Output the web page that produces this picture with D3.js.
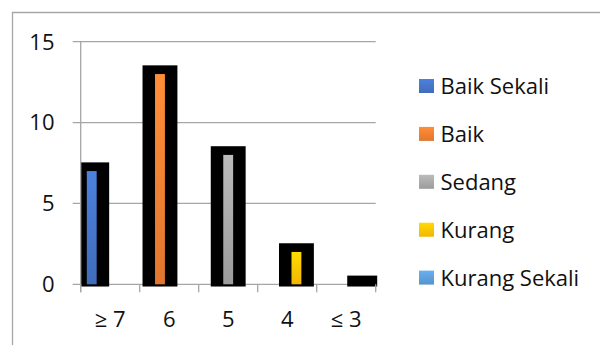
<!DOCTYPE html>
<html>
<head>
<meta charset="utf-8">
<script src="https://cdn.jsdelivr.net/npm/d3@7"></script>
<style>
  body { margin: 0; background: #fff; }
  svg { display: block; font-family: "Open Sans", sans-serif; }
</style>
</head>
<body>
<div id="chart"></div>
<script>
// data
let categories = ['≥ 7', '6', '5', '4', '≤ 3'];
let seriesNames = ['Baik Sekali', 'Baik', 'Sedang', 'Kurang', 'Kurang Sekali'];
let baikSekali = [7, null, null, null, null];
let baik = [null, 13, null, null, null];
let sedang = [null, null, 8, null, null];
let kurang = [null, null, null, 2, null];
let kurangSekali = [null, null, null, null, 0];
let yTicks = [0, 5, 10, 15];
let colors = ['#4472C4', '#ED7D31', '#A5A5A5', '#FFC000', '#5B9BD5'];

let seriesValues = [baikSekali, baik, sedang, kurang, kurangSekali];

let width = 600,
    height = 345,
    plot = {left: 80.7, right: 375.7, top: 41.7, bottom: 284.3};

let svg = d3.select('#chart')
  .append('svg')
  .attr('width', width)
  .attr('height', height);

// gradients like the office style fills
let defs = svg.append('defs');
colors.forEach((c, i) => {
  let grad = defs.append('linearGradient')
    .attr('id', 'grad' + i)
    .attr('x1', 0).attr('y1', 0).attr('x2', 0).attr('y2', 1);
  grad.append('stop').attr('offset', '0%').attr('stop-color', d3.color(c).brighter(0.35));
  grad.append('stop').attr('offset', '100%').attr('stop-color', d3.color(c).darker(0.15));
});
defs.append('clipPath').attr('id', 'plotClip')
  .append('rect')
  .attr('x', plot.left).attr('y', 0)
  .attr('width', plot.right - plot.left + 1.5)
  .attr('height', plot.bottom + 2.5);

// outer frame (only top and left edges show)
svg.append('path')
  .attr('d', 'M12.5,' + height + 'V12.5H' + width)
  .attr('fill', 'none')
  .attr('stroke', '#a6a6a6')
  .attr('stroke-width', 1.3);

let x = d3.scaleBand()
  .domain(categories)
  .range([plot.left, plot.right])
  .paddingInner(0)
  .paddingOuter(0);

let xs = d3.scaleBand()
  .domain(seriesNames)
  .range([0, x.bandwidth()])
  .paddingOuter(0.66)
  .paddingInner(-0.07);

let y = d3.scaleLinear()
  .domain([0, 15])
  .range([plot.bottom, plot.top]);

// gridlines
svg.append('g')
  .selectAll('line')
  .data(yTicks)
  .enter().append('line')
    .attr('x1', plot.left - 8)
    .attr('x2', plot.right)
    .attr('y1', d => y(d))
    .attr('y2', d => y(d))
    .attr('stroke', '#a6a6a6')
    .attr('stroke-width', 1.3);

// y labels
svg.append('g')
  .selectAll('text')
  .data(yTicks)
  .enter().append('text')
    .attr('x', 54.5)
    .attr('y', d => y(d))
    .attr('dy', '0.36em')
    .attr('text-anchor', 'end')
    .attr('font-size', 22)
    .attr('fill', '#111')
    .text(d => d);

// flatten to bar records
let bars = [];
seriesValues.forEach((vals, s) => {
  vals.forEach((v, c) => {
    if (v !== null) bars.push({series: seriesNames[s], s: s, cat: categories[c], value: v});
  });
});

let barG = svg.append('g').attr('clip-path', 'url(#plotClip)');

// thick black outline behind each bar
barG.selectAll('rect.outline')
  .data(bars)
  .enter().append('rect')
    .attr('class', 'outline')
    .attr('x', d => x(d.cat) + xs(d.series) - 12.5)
    .attr('width', xs.bandwidth() + 25)
    .attr('y', d => y(d.value) - 8.7)
    .attr('height', d => plot.bottom + 2.4 - y(d.value) + 8.7)
    .attr('fill', '#000');

barG.selectAll('rect.bar')
  .data(bars.filter(d => d.value > 0))
  .enter().append('rect')
    .attr('class', 'bar')
    .attr('x', d => x(d.cat) + xs(d.series))
    .attr('width', xs.bandwidth())
    .attr('y', d => y(d.value))
    .attr('height', d => plot.bottom - y(d.value))
    .attr('fill', d => 'url(#grad' + d.s + ')');

// axes lines drawn over bars
svg.append('line')
  .attr('x1', plot.left).attr('x2', plot.left)
  .attr('y1', plot.top).attr('y2', plot.bottom + 8)
  .attr('stroke', '#a6a6a6')
  .attr('stroke-width', 1.3);

let xTicks = categories.map(c => x(c)).concat([plot.right]);
svg.append('g')
  .selectAll('line')
  .data(xTicks)
  .enter().append('line')
    .attr('x1', d => d).attr('x2', d => d)
    .attr('y1', plot.bottom).attr('y2', plot.bottom + 8)
    .attr('stroke', '#a6a6a6')
    .attr('stroke-width', 1.3);

svg.append('g')
  .selectAll('text')
  .data(categories)
  .enter().append('text')
    .attr('x', d => x(d) + x.bandwidth() / 2)
    .attr('y', 327)
    .attr('text-anchor', 'middle')
    .attr('font-size', 22)
    .attr('fill', '#111')
    .text(d => d);

// legend
let legend = svg.append('g')
  .selectAll('g')
  .data(seriesNames)
  .enter().append('g')
    .attr('transform', (d, i) => `translate(419,${86 + i * 47.9})`);

legend.append('rect')
  .attr('x', 0).attr('y', -7)
  .attr('width', 15).attr('height', 14)
  .attr('fill', (d, i) => 'url(#grad' + i + ')');

legend.append('text')
  .attr('x', 21.5)
  .attr('dy', '0.36em')
  .attr('font-size', 22)
  .attr('fill', '#111')
  .text(d => d);
</script>
</body>
</html>
